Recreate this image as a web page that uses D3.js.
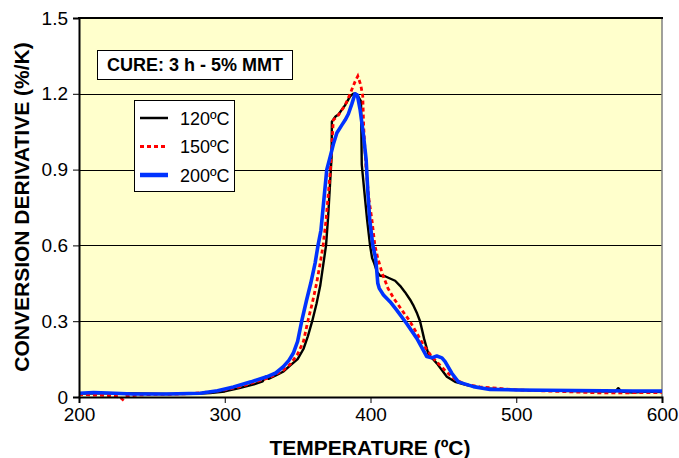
<!DOCTYPE html>
<html><head><meta charset="utf-8">
<script src="https://cdn.jsdelivr.net/npm/d3@7"></script>
<style>body{margin:0;background:#fff}svg{display:block}text{font-family:Arial,"Liberation Sans",sans-serif}</style>
</head><body><svg id="c" width="679" height="458"></svg>
<script>
const xTicks=[200,300,400,500,600];
const yTicks=[0,0.3,0.6,0.9,1.2,1.5];
const seriesNames=["120ºC","150ºC","200ºC"];
const s120=[[200,0.014],[220,0.015],[240,0.014],[260,0.012],[280,0.013],[290,0.016],[300,0.022],[310,0.035],[320,0.05],[326,0.062],[328,0.08],[330,0.072],[335,0.085],[340,0.1],[345,0.125],[350,0.15],[354,0.19],[357,0.24],[360,0.3],[363,0.37],[365.5,0.44],[367.5,0.52],[369.5,0.6],[371,0.72],[372.3,0.85],[373.3,0.95],[373.5,1.09],[376,1.11],[378,1.118],[382.6,1.155],[386,1.19],[388,1.2],[390,1.2],[391.5,1.19],[393.5,1.17],[394,0.92],[396,0.8],[397.7,0.7],[399.7,0.6],[401.1,0.55],[402.5,0.53],[404.5,0.495],[406.6,0.48],[410,0.478],[413,0.47],[416.9,0.46],[420.3,0.44],[423.7,0.415],[427.2,0.385],[429.2,0.365],[432,0.33],[434,0.30],[436.8,0.23],[439.7,0.17],[445.5,0.133],[452.4,0.08],[458,0.06],[466,0.047],[477,0.035],[490,0.03],[500,0.028],[520,0.026],[550,0.023],[568,0.022],[570,0.035],[572,0.022],[580,0.018],[590,0.022],[600,0.02]];
const s150=[[200,0.01],[210,0.008],[220,0.006],[228,0.0],[230,-0.01],[232,0.002],[240,0.008],[250,0.01],[260,0.01],[270,0.012],[280,0.015],[290,0.02],[300,0.028],[310,0.04],[320,0.058],[330,0.075],[340,0.105],[345,0.13],[350,0.17],[354,0.22],[357,0.3],[360,0.37],[363,0.45],[365.5,0.53],[367.5,0.6],[369.5,0.7],[371,0.8],[372.5,0.9],[373.5,1.0],[374.5,1.096],[378,1.116],[382.6,1.155],[386,1.2],[389.4,1.248],[391.3,1.27],[393.3,1.235],[394.7,1.19],[395.3,1.07],[397,0.9],[399,0.78],[401,0.7],[403,0.6],[405,0.55],[408,0.49],[412,0.43],[416,0.39],[422,0.34],[427,0.3],[432,0.25],[437,0.2],[442,0.16],[447,0.13],[452,0.1],[458,0.07],[465,0.05],[475,0.04],[490,0.033],[500,0.028],[520,0.024],[540,0.02],[560,0.016],[580,0.017],[600,0.018]];
const s200=[[200,0.015],[210,0.018],[220,0.016],[237,0.012],[260,0.012],[283,0.015],[295,0.025],[306,0.04],[318,0.06],[328.8,0.08],[335,0.095],[340.2,0.12],[344,0.145],[347,0.173],[350,0.22],[352.8,0.3],[356,0.38],[359,0.45],[362,0.53],[364,0.6],[366,0.66],[368,0.78],[370,0.9],[372.3,0.95],[374.5,1.0],[376.9,1.045],[380.3,1.076],[382.6,1.096],[384.8,1.12],[387.2,1.16],[389.4,1.2],[391,1.195],[392.9,1.136],[395.1,1.04],[397,0.94],[398.3,0.8],[399.5,0.7],[401.6,0.6],[403.5,0.55],[404.3,0.5],[405,0.45],[406,0.43],[408.9,0.404],[413.4,0.377],[418,0.344],[424.9,0.29],[431.8,0.232],[438.6,0.16],[442,0.155],[445.5,0.162],[449,0.155],[451.2,0.14],[455.8,0.094],[460.3,0.06],[470.6,0.041],[482,0.03],[500,0.028],[520,0.027],[540,0.026],[560,0.025],[580,0.024],[600,0.024]];

const svg=d3.select("#c");
const L=79,R=662,T=18,B=397;
const x=d3.scaleLinear().domain([200,600]).range([L,R]);
const y=d3.scaleLinear().domain([0,1.5]).range([B,T]);
svg.append("rect").attr("x",L).attr("y",T).attr("width",R-L).attr("height",B-T).attr("fill","#FFFFCC");
// grid
svg.append("g").selectAll("line").data(yTicks.filter(d=>d>0&&d<1.5)).join("line")
 .attr("x1",L).attr("x2",R).attr("y1",d=>Math.round(y(d))+0.5).attr("y2",d=>Math.round(y(d))+0.5)
 .attr("stroke","#000").attr("stroke-width",1);
// frame
svg.append("line").attr("x1",R).attr("x2",R).attr("y1",T).attr("y2",B).attr("stroke","#808080").attr("stroke-width",1.5);
svg.append("line").attr("x1",L-1).attr("x2",R+1).attr("y1",T).attr("y2",T).attr("stroke","#000").attr("stroke-width",2);
// lines
const line=d3.line().x(d=>x(d[0])).y(d=>y(d[1]));
const g=svg.append("g");
g.append("path").datum(s120).attr("d",line).attr("fill","none").attr("stroke","#000").attr("stroke-width",2.4).attr("stroke-linejoin","round");
g.append("path").datum(s150).attr("d",line).attr("fill","none").attr("stroke","#FF0000").attr("stroke-width",2.8).attr("stroke-dasharray","4,3");
g.append("path").datum(s200).attr("d",line).attr("fill","none").attr("stroke","#0033FF").attr("stroke-width",3.6).attr("stroke-linejoin","round");
// axes
const xa=svg.append("g").attr("transform",`translate(0,${B})`).call(d3.axisBottom(x).tickValues(xTicks).tickSize(6).tickPadding(5).tickFormat(d3.format("d")));
const ya=svg.append("g").attr("transform",`translate(${L},0)`).call(d3.axisLeft(y).tickValues(yTicks).tickSize(6).tickPadding(5).tickFormat(d=>d===0?"0":d3.format(".1f")(d)));
[xa,ya].forEach(a=>{a.select(".domain").attr("stroke","#000").attr("stroke-width",2);a.selectAll(".tick line").attr("stroke","#000");a.selectAll("text").attr("font-size",19).attr("fill","#000").attr("font-family","Arial, Liberation Sans");});
// titles
svg.append("text").attr("x",370).attr("y",455).attr("text-anchor","middle").attr("font-weight","bold").attr("font-size",21).text("TEMPERATURE (ºC)");
svg.append("text").attr("transform","translate(28.5,207) rotate(-90)").attr("text-anchor","middle").attr("font-weight","bold").attr("font-size",21).text("CONVERSION DERIVATIVE (%/K)");
// annotation
svg.append("rect").attr("x",97.5).attr("y",50.5).attr("width",195).attr("height",29).attr("fill","#fff").attr("stroke","#000");
svg.append("text").attr("x",195).attr("y",71).attr("text-anchor","middle").attr("font-weight","bold").attr("font-size",18).text("CURE: 3 h - 5% MMT");
// legend
svg.append("rect").attr("x",134.5).attr("y",100.5).attr("width",100).attr("height",91).attr("fill","#fff").attr("stroke","#000");
const styles=[{c:"#000",w:2.5,d:null},{c:"#FF0000",w:3,d:"4,3"},{c:"#0033FF",w:4.5,d:null}];
seriesNames.forEach((n,i)=>{
 const yy=118+i*28.5;
 svg.append("line").attr("x1",140).attr("x2",168).attr("y1",yy).attr("y2",yy).attr("stroke",styles[i].c).attr("stroke-width",styles[i].w).attr("stroke-dasharray",styles[i].d);
 svg.append("text").attr("x",180).attr("y",yy+6.5).attr("font-size",18).text(n);
});
</script></body></html>
